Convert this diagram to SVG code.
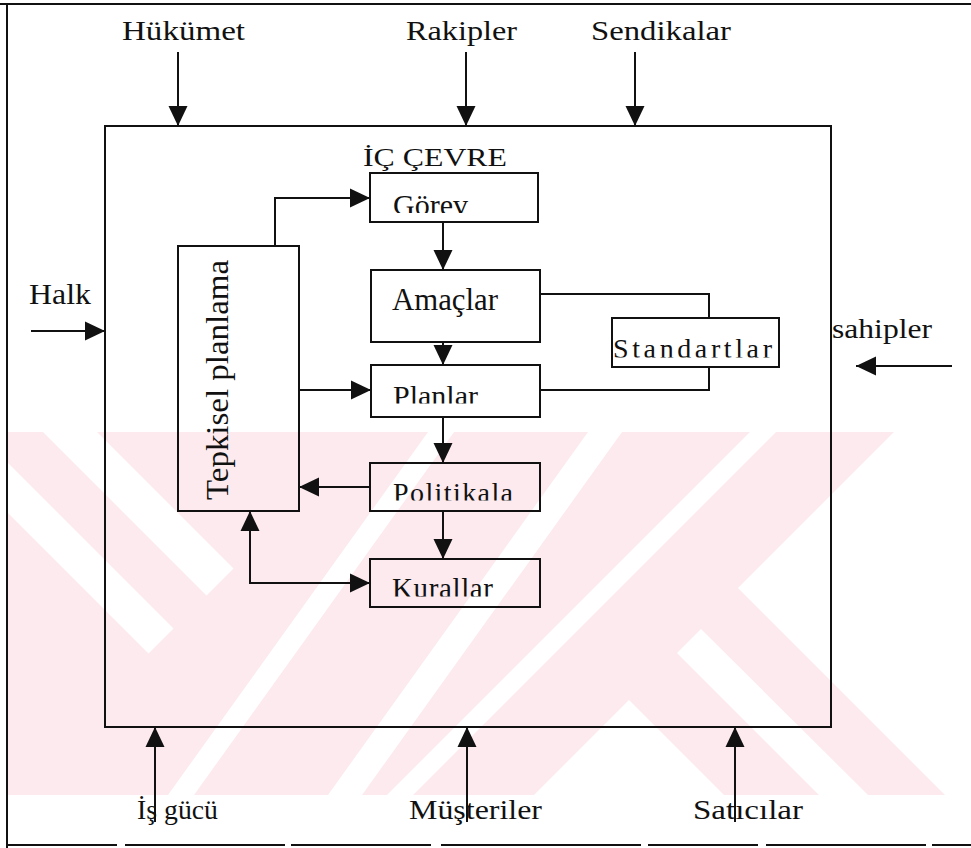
<svg xmlns="http://www.w3.org/2000/svg" width="971" height="848" viewBox="0 0 971 848">
  <defs>
    <marker id="arrow" viewBox="0 0 20 20" refX="20" refY="10" markerWidth="20" markerHeight="20" markerUnits="userSpaceOnUse" orient="auto-start-reverse">
      <path d="M0,0.5 L20,10 L0,19.5 Z" fill="#111"/>
    </marker>
    <clipPath id="wm-clip"><rect x="8" y="432" width="954" height="363"/></clipPath>
    <clipPath id="clip-gorev"><rect x="370" y="173" width="168" height="40"/></clipPath>
    <clipPath id="clip-standart"><rect x="612" y="318" width="167" height="39.5"/></clipPath>
    <clipPath id="clip-planlar"><rect x="370" y="365" width="170" height="38.5"/></clipPath>
    <clipPath id="clip-politika"><rect x="370" y="463" width="168" height="37.5"/></clipPath>
    <clipPath id="clip-kurallar"><rect x="370" y="559" width="170" height="37.5"/></clipPath>
  </defs>
  <style>
    .frame { fill: none; stroke: #111; stroke-width: 2; }
    .box { fill: none; stroke: #111; stroke-width: 2; }
    .conn { fill: none; stroke: #111; stroke-width: 2; }
    .arr { marker-end: url(#arrow); }
    .both { marker-start: url(#arrow); marker-end: url(#arrow); }
    text { font-family: "Liberation Serif", "Times New Roman", serif; fill: #111; }
    .wm-bg { fill: #fdeaee; }
    .wm-gap { fill: #ffffff; }
  </style>

  <rect width="971" height="848" fill="#ffffff"/>

  <!-- pale diagonal background mark -->
  <g id="watermark" clip-path="url(#wm-clip)">
    <rect class="wm-bg" x="8" y="432" width="954" height="363"/>
    <!-- falling stripes, cut by the rising band -->
    <polygon class="wm-gap" points="43,432 97,432 233.5,568.5 206.5,595.5"/>
    <polygon class="wm-gap" points="0,455 173.5,628.5 148.5,653.5 0,505"/>
    <!-- rising stripes -->
    <polygon class="wm-gap" points="428,432 454,432 194,795 168,795"/>
    <polygon class="wm-gap" points="588,432 622,432 362,795 328,795"/>
    <polygon class="wm-gap" points="750,432 776,432 413,795 387,795"/>
    <!-- lower gap under the right cross -->
    <polygon class="wm-gap" points="629,700 534,795 724,795"/>
    <!-- right falling stripe and right-hand gap -->
    <polygon class="wm-gap" points="701,629 677,653 819,795 868,795"/>
    <polygon class="wm-gap" points="894,432 980,432 980,795 945,795 738,588"/>
  </g>

  <!-- page border -->
  <g id="page-border">
    <path class="frame" d="M0,4 H971"/>
    <path class="frame" d="M7,4 V848"/>
    <path class="frame" d="M7,845 H971" stroke-dasharray="110 8 160 6 140 10 200 7"/>
  </g>

  <!-- outer labels -->
  <g id="hukumet"><text x="122" y="40" font-size="28" textLength="123" lengthAdjust="spacingAndGlyphs">Hükümet</text></g>
  <g id="rakipler"><text x="406" y="40" font-size="28" textLength="111" lengthAdjust="spacingAndGlyphs">Rakipler</text></g>
  <g id="sendikalar"><text x="591" y="40" font-size="28" textLength="140" lengthAdjust="spacingAndGlyphs">Sendikalar</text></g>
  <g id="halk"><text x="29" y="304" font-size="30" textLength="62" lengthAdjust="spacingAndGlyphs">Halk</text></g>
  <g id="sahipler"><text x="832" y="338" font-size="27" textLength="100" lengthAdjust="spacingAndGlyphs">sahipler</text></g>
  <g id="is-gucu"><text x="137" y="819" font-size="27" textLength="81" lengthAdjust="spacingAndGlyphs">İş gücü</text></g>
  <g id="musteriler"><text x="409" y="819" font-size="27" textLength="133" lengthAdjust="spacingAndGlyphs">Müşteriler</text></g>
  <g id="saticilar"><text x="693" y="819" font-size="27" textLength="110" lengthAdjust="spacingAndGlyphs">Satıcılar</text></g>

  <!-- internal environment container -->
  <g id="ic-cevre">
    <rect class="box" x="105" y="126" width="726" height="601"/>
    <text x="363" y="166" font-size="25" textLength="144" lengthAdjust="spacingAndGlyphs">İÇ ÇEVRE</text>
  </g>

  <g id="gorev">
    <rect class="box" x="370" y="173" width="168" height="49"/>
    <text x="393" y="215" font-size="29" textLength="75" lengthAdjust="spacingAndGlyphs" clip-path="url(#clip-gorev)">Görev</text>
  </g>
  <g id="amaclar">
    <rect class="box" x="371" y="270" width="169" height="72"/>
    <text x="392" y="310" font-size="31" textLength="106" lengthAdjust="spacingAndGlyphs">Amaçlar</text>
  </g>
  <g id="standartlar">
    <rect class="box" x="612" y="318" width="167" height="49"/>
    <text x="613" y="358" font-size="28" textLength="159" clip-path="url(#clip-standart)">Standartlar</text>
  </g>
  <g id="planlar">
    <rect class="box" x="371" y="365" width="169" height="52"/>
    <text x="393" y="405" font-size="28" textLength="85" lengthAdjust="spacingAndGlyphs" clip-path="url(#clip-planlar)">Planlar</text>
  </g>
  <g id="politikala">
    <rect class="box" x="370" y="463" width="170" height="48"/>
    <text x="393" y="502" font-size="28" textLength="120" clip-path="url(#clip-politika)">Politikala</text>
  </g>
  <g id="kurallar">
    <rect class="box" x="370" y="559" width="170" height="48"/>
    <text x="392" y="598" font-size="29" textLength="101" clip-path="url(#clip-kurallar)">Kurallar</text>
  </g>
  <g id="tepkisel">
    <rect class="box" x="178" y="246" width="121" height="265"/>
    <text transform="translate(228,500) rotate(-90)" font-size="32" textLength="240" lengthAdjust="spacingAndGlyphs">Tepkisel planlama</text>
  </g>

  <g id="connectors">
    <!-- external forces -->
    <path class="conn arr" d="M178,52 V126"/>
    <path class="conn arr" d="M466,52 V126"/>
    <path class="conn arr" d="M635,52 V126"/>
    <path class="conn arr" d="M31,331 H105"/>
    <path class="conn arr" d="M952,366 H856"/>
    <path class="conn arr" d="M155,822 V727"/>
    <path class="conn arr" d="M467,822 V727"/>
    <path class="conn arr" d="M735,822 V727"/>
    <!-- planning chain -->
    <path class="conn arr" d="M443,222 V270"/>
    <path class="conn arr" d="M443,342 V365"/>
    <path class="conn arr" d="M443,417 V463"/>
    <path class="conn arr" d="M443,511 V559"/>
    <path class="conn arr" d="M275,246 V198 H370"/>
    <path class="conn arr" d="M299,390 H371"/>
    <path class="conn arr" d="M370,487 H299"/>
    <path class="conn both" d="M250,511 V583 H370"/>
    <!-- standards links -->
    <path class="conn" d="M540,294 H709 V318"/>
    <path class="conn" d="M540,390 H709 V367"/>
  </g>
</svg>
